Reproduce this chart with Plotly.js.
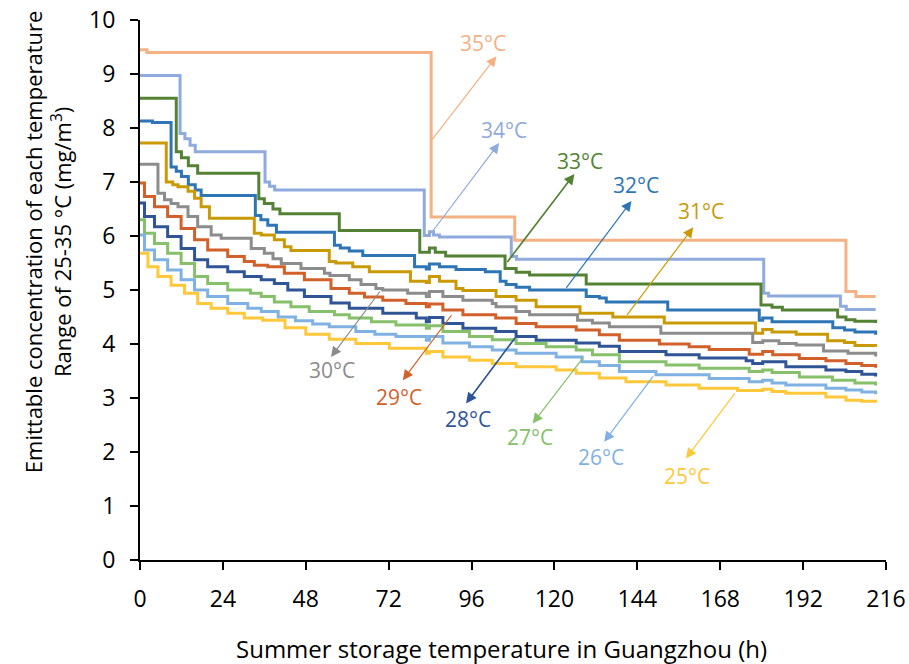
<!DOCTYPE html>
<html>
<head>
<meta charset="utf-8">
<script src="https://cdn.plot.ly/plotly-3.0.1.min.js"></script>
<style>
  html, body { margin: 0; padding: 0; background: #fff; }
  #chart { width: 909px; height: 664px; }
</style>
</head>
<body>
<div id="chart"></div>
<script>
// hours and emittable concentration (mg/m3) per temperature
const h35 = [0, 2, 84.3, 108.5, 204.4, 207.3, 213];
const c35 = [9.45, 9.4, 6.35, 5.92, 4.97, 4.88, 4.88];

const h34 = [0, 11.6, 13, 14.5, 16, 36.2, 37.5, 39, 82.3, 83.8, 85, 86.7, 107.5, 109, 180.6, 182, 202.8, 204.5, 213];
const c34 = [8.97, 7.9, 7.8, 7.68, 7.56, 7.0, 6.92, 6.85, 6.01, 6.08, 6.02, 5.98, 5.62, 5.57, 4.94, 4.89, 4.7, 4.64, 4.64];

const h33 = [0, 10.5, 12, 14, 16.7, 34.4, 36, 38.5, 40.5, 57.7, 81.0, 83.8, 85.5, 88.5, 105.7, 108.9, 112.8, 129.2, 179.8, 183, 186, 202, 204.4, 207, 213];
const c33 = [8.55, 7.56, 7.45, 7.3, 7.16, 6.69, 6.6, 6.5, 6.41, 6.1, 5.7, 5.78, 5.7, 5.63, 5.4, 5.33, 5.28, 5.11, 4.72, 4.68, 4.63, 4.5, 4.45, 4.42, 4.39];

const h32 = [0, 3.6, 9.0, 10.5, 12, 14, 16, 17.7, 33.4, 35, 37, 39.5, 56.3, 58, 60.6, 64.5, 79.5, 82.9, 83.8, 86.7, 91.5, 100, 104.3, 106, 108.9, 112.8, 129.2, 133, 135, 152.8, 179.3, 180.3, 183, 200.6, 204, 207, 213];
const c32 = [8.13, 8.1, 7.28, 7.2, 7.1, 6.95, 6.85, 6.75, 6.38, 6.3, 6.2, 6.07, 5.83, 5.78, 5.72, 5.64, 5.43, 5.39, 5.48, 5.43, 5.38, 5.34, 5.16, 5.1, 5.05, 5.0, 4.88, 4.85, 4.78, 4.63, 4.44, 4.48, 4.41, 4.3, 4.26, 4.22, 4.17];

const h31 = [0, 7.6, 9.5, 11, 13.9, 15.8, 17.7, 20.1, 33.1, 35.1, 38.9, 41.8, 43.7, 54.8, 56.7, 61.6, 66.4, 78.3, 82.9, 83.8, 86.7, 91.5, 93.5, 103.1, 108.9, 114.7, 127.4, 136.9, 151.8, 178.2, 180.3, 183, 190, 199.1, 204, 207, 213];
const c31 = [7.72, 7.0, 6.95, 6.91, 6.83, 6.7, 6.54, 6.33, 6.05, 6.02, 5.93, 5.8, 5.73, 5.53, 5.5, 5.43, 5.34, 5.16, 5.14, 5.25, 5.16, 5.03, 4.99, 4.88, 4.81, 4.69, 4.57, 4.5, 4.39, 4.2, 4.27, 4.22, 4.18, 4.06, 4.03, 3.97, 3.95];

const h30 = [0, 5.2, 7.1, 9, 11, 13.9, 16.7, 20.6, 23.5, 32.2, 36.0, 38.5, 40.9, 46.6, 53.4, 55, 60.6, 64, 68.3, 70.3, 77.5, 82.9, 83.8, 87.7, 93.5, 102, 103.1, 108.9, 112.8, 126.7, 131, 135.9, 150.8, 177.4, 180.3, 185, 190, 197.9, 205, 213];
const c30 = [7.33, 6.79, 6.67, 6.6, 6.54, 6.36, 6.17, 6.02, 5.96, 5.77, 5.68, 5.58, 5.49, 5.4, 5.31, 5.27, 5.19, 5.1, 5.03, 5.0, 4.94, 4.88, 4.97, 4.88, 4.81, 4.75, 4.69, 4.6, 4.54, 4.44, 4.39, 4.32, 4.2, 4.03, 4.06, 4.01, 3.98, 3.87, 3.83, 3.77];

const h29 = [0, 1.3, 4.2, 8.0, 11.9, 15.8, 19.6, 25.4, 30.2, 33.1, 37, 41.8, 47.6, 55.3, 60.6, 65, 70.3, 77, 82.9, 83.8, 87.7, 93.5, 103, 108.9, 114.7, 126.3, 133, 138.8, 150.4, 159, 164.8, 176.4, 180.3, 183.2, 190.9, 198.6, 204.4, 209, 213];
const c29 = [6.98, 6.73, 6.54, 6.36, 6.14, 5.93, 5.74, 5.62, 5.53, 5.46, 5.43, 5.31, 5.19, 5.03, 4.94, 4.87, 4.81, 4.75, 4.69, 4.74, 4.63, 4.54, 4.48, 4.38, 4.32, 4.26, 4.17, 4.07, 4.0, 3.95, 3.9, 3.81, 3.86, 3.8, 3.73, 3.69, 3.64, 3.6, 3.56];

const h28 = [0, 1.3, 4.2, 8.0, 11.9, 15.8, 19.6, 25.4, 30.2, 35.1, 38.9, 42.8, 47.6, 55.3, 60.6, 70.3, 80, 82.9, 83.8, 87.7, 93.5, 103, 108.9, 114.7, 126.3, 133, 138.8, 152.3, 161.9, 175.5, 177.4, 180.3, 187, 198.6, 204.4, 209, 213];
const c28 = [6.61, 6.36, 6.17, 5.99, 5.77, 5.56, 5.43, 5.34, 5.25, 5.19, 5.12, 5.0, 4.88, 4.76, 4.66, 4.57, 4.48, 4.41, 4.49, 4.38, 4.29, 4.23, 4.14, 4.07, 4.02, 3.96, 3.86, 3.8, 3.74, 3.69, 3.64, 3.67, 3.58, 3.52, 3.49, 3.44, 3.4];

const h27 = [0, 1.3, 4.2, 8.0, 11.9, 15.8, 19.6, 25.4, 32, 35.1, 38.9, 43.7, 49, 56.3, 60.6, 67, 74.1, 82.9, 83.8, 87.7, 95.4, 102, 108.9, 117.6, 126.3, 131, 138.8, 152.3, 161.9, 176.4, 180.3, 183, 190.9, 200.5, 207, 213];
const c27 = [6.3, 6.05, 5.86, 5.68, 5.49, 5.25, 5.12, 5.0, 4.94, 4.88, 4.78, 4.69, 4.6, 4.54, 4.48, 4.41, 4.35, 4.29, 4.34, 4.23, 4.14, 4.08, 4.01, 3.95, 3.89, 3.8, 3.67, 3.61, 3.55, 3.49, 3.52, 3.47, 3.39, 3.33, 3.28, 3.23];

const h26 = [0, 1.3, 4.2, 8.0, 11.9, 15.8, 19.6, 25.4, 31.2, 35.1, 40, 45, 50, 54.8, 62.5, 68, 74.1, 82.9, 83.8, 87.7, 95.4, 102, 108.9, 120.5, 128, 133, 138.8, 149.4, 164.8, 176.4, 180.3, 183, 187, 198.6, 204.4, 209, 213];
const c26 = [6.02, 5.74, 5.56, 5.37, 5.19, 5.0, 4.88, 4.75, 4.66, 4.6, 4.5, 4.43, 4.37, 4.32, 4.23, 4.18, 4.14, 4.07, 4.14, 4.02, 3.95, 3.89, 3.83, 3.76, 3.67, 3.6, 3.49, 3.43, 3.36, 3.3, 3.33, 3.28, 3.24, 3.18, 3.15, 3.11, 3.07];

const h25 = [0, 2.3, 5.2, 9.0, 12.9, 16.7, 20.6, 25.4, 30.2, 35.5, 42, 48, 54.8, 62.5, 72.2, 82.9, 83.8, 87.7, 95.4, 102, 108.9, 120.5, 126.3, 133, 140.7, 152.3, 161.9, 173, 180.3, 183, 187, 198.6, 204.4, 209, 213];
const c25 = [5.68, 5.43, 5.25, 5.09, 4.94, 4.75, 4.66, 4.57, 4.48, 4.44, 4.3, 4.18, 4.09, 4.01, 3.92, 3.83, 3.86, 3.76, 3.7, 3.64, 3.58, 3.52, 3.46, 3.37, 3.3, 3.24, 3.18, 3.14, 3.16, 3.12, 3.09, 3.02, 2.96, 2.94, 2.91];

const temps = [35, 34, 33, 32, 31, 30, 29, 28, 27, 26, 25];
const hours = [h35, h34, h33, h32, h31, h30, h29, h28, h27, h26, h25];
const conc = [c35, c34, c33, c32, c31, c30, c29, c28, c27, c26, c25];
const xTicks = [0, 24, 48, 72, 96, 120, 144, 168, 192, 216];

const colors = {
  35: '#F4B183', 34: '#8FAADC', 33: '#548235', 32: '#2E75B6', 31: '#C99A06', 30: '#8C8C8C',
  29: '#D2602A', 28: '#2F5597', 27: '#86C06A', 26: '#7FB2E2', 25: '#FFC83A'
};

// label placement: [text x, text y, arrow tail x, tail y, arrow head x, head y] in data units
const labelPos = {
  35: [99.4, 9.57, 84.3, 7.76, 103.2, 9.33],
  34: [105.5, 7.96, 84.4, 6.06, 104.0, 7.72],
  33: [127.5, 7.39, 106.0, 5.49, 125.8, 7.15],
  32: [143.7, 6.94, 123.1, 5.01, 142.3, 6.65],
  31: [162.5, 6.46, 140.7, 4.51, 160.2, 6.16],
  30: [55.7, 3.52, 69.8, 5.0, 55.3, 3.76],
  29: [75.1, 3.02, 90.5, 4.56, 76.1, 3.33],
  28: [95.1, 2.61, 108.9, 4.14, 94.4, 2.9],
  27: [113.0, 2.28, 128.7, 3.78, 113.7, 2.53],
  26: [133.6, 1.91, 148.9, 3.43, 134.4, 2.19],
  25: [158.5, 1.56, 172.6, 3.12, 158.1, 1.88]
};
const thick = {33: 1.7, 28: 1.7};

const FONT = '"Open Sans", "Noto Sans", sans-serif';

const traces = temps.map((t, i) => ({
  type: 'scatter', mode: 'lines', x: hours[i], y: conc[i],
  name: t + '°C', line: {color: colors[t], width: 3, shape: 'hv'},
  hoverinfo: 'skip'
}));

const annotations = [];
temps.forEach(t => {
  const p = labelPos[t];
  annotations.push({
    x: p[4], y: p[5], xref: 'x', yref: 'y', ax: p[2], ay: p[3], axref: 'x', ayref: 'y',
    text: '', showarrow: true, arrowhead: 2, arrowsize: thick[t] ? 1.25 : 1.7,
    arrowwidth: thick[t] || 1.2, arrowcolor: colors[t], standoff: 0, startstandoff: 0
  });
  annotations.push({
    x: p[0], y: p[1], xref: 'x', yref: 'y', text: t + '°C', showarrow: false,
    font: {family: FONT, size: 21, color: colors[t]}, xanchor: 'center', yanchor: 'middle'
  });
});

annotations.push({
  xref: 'paper', yref: 'paper', x: -0.123, y: 0.589, xanchor: 'center', yanchor: 'middle',
  textangle: -90, showarrow: false, align: 'center',
  text: 'Emittable concentration of each temperature<br>Range of 25-35 °C (mg/m<sup>3</sup>)',
  font: {family: FONT, size: 22, color: '#000'}
});
annotations.push({
  xref: 'paper', yref: 'paper', x: 0.485, y: -0.163, xanchor: 'center', yanchor: 'middle',
  showarrow: false, text: 'Summer storage temperature in Guangzhou (h)',
  font: {family: FONT, size: 24, color: '#000'}
});

const axisCommon = {
  showline: true, linecolor: '#000', linewidth: 2, ticks: 'outside', ticklen: 8,
  tickwidth: 2, tickcolor: '#000', showgrid: false, zeroline: false,
  tickfont: {family: FONT, size: 23, color: '#000'}
};

const layout = {
  width: 909, height: 664,
  margin: {l: 140, r: 23, t: 20, b: 104},
  paper_bgcolor: '#fff', plot_bgcolor: '#fff',
  showlegend: false,
  xaxis: {...axisCommon, range: [0, 216], tickvals: xTicks, ticktext: xTicks.map(String), ticklabelstandoff: 9},
  yaxis: {...axisCommon, range: [0, 10], dtick: 1, tick0: 0, ticklabelstandoff: 10},
  annotations: annotations
};

Plotly.newPlot('chart', traces, layout, {displayModeBar: false, staticPlot: true});
</script>
</body>
</html>
